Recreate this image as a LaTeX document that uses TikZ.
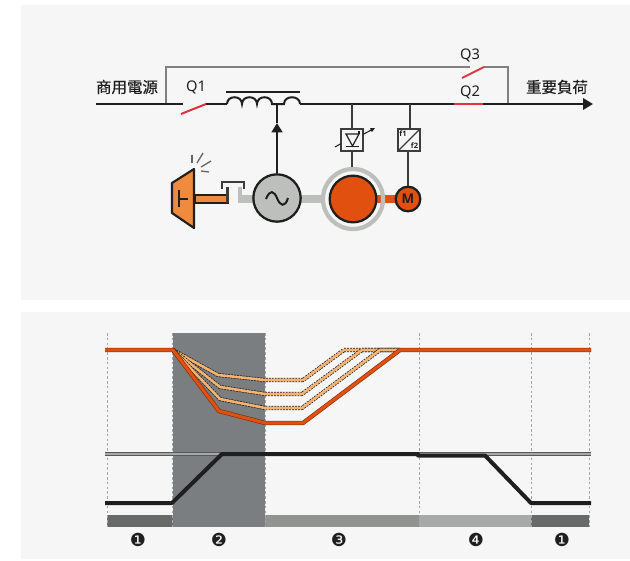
\documentclass[tikz,border=0pt]{standalone}
\usepackage{fontspec}
\setmainfont{Noto Sans}
\newfontfamily\cjkfont[FakeBold=0.35]{Noto Sans CJK TC}
\newfontfamily\dingfont{DejaVu Sans}
\newfontfamily\heavyfont{Open Sans Bold}
\usetikzlibrary{arrows.meta,calc}
\definecolor{panelc}{HTML}{F6F6F6}
\definecolor{ink}{HTML}{1F1F1F}
\definecolor{wire}{HTML}{3C3C3C}
\definecolor{bypass}{HTML}{808080}
\definecolor{switchred}{HTML}{E0323F}
\definecolor{hotorange}{HTML}{E2500F}
\definecolor{turbine}{HTML}{F08A3C}
\definecolor{shaftgrey}{HTML}{BDBFBD}
\definecolor{bandA}{HTML}{676A69}
\definecolor{bandB}{HTML}{7B7E80}
\definecolor{bandC}{HTML}{919391}
\definecolor{bandD}{HTML}{A7A9A8}
\definecolor{dashorange}{HTML}{F6B26E}
\tikzset{
  x=0.75pt,y=-0.75pt,
  panel/.style={fill=panelc,draw=none},
  buswire/.style={draw=ink,line width=1.8pt},
  bypasswire/.style={draw=bypass,line width=1.6pt},
  branchwire/.style={draw=wire,line width=1.9pt},
  redswitch/.style={draw=switchred,line width=1.5pt},
  label/.style={font=\fontsize{11}{13}\selectfont,text=ink,inner sep=0pt},
  cjklabel/.style={font=\cjkfont\fontsize{11.6}{13}\selectfont,text=ink,inner sep=0pt},
  convbox/.style={draw=wire,fill=panelc,line width=1.1pt,minimum size=16.5pt,inner sep=0pt},
  tinytext/.style={font=\heavyfont\fontsize{5.6}{6}\selectfont,text=ink,inner sep=0pt},
  guide/.style={draw=black!35,line width=0.7pt,dash pattern=on 2pt off 1.6pt},
  curvedash/.style={draw=black!85,line width=3.1pt,dash pattern=on 1.4pt off 0.8pt,line join=round},
  curvefill/.style={draw=dashorange,line width=1.9pt,line join=round},
  stepnum/.style={font=\dingfont\fontsize{13.5}{14}\selectfont,text=ink,inner sep=0pt},
}
\begin{document}
\begin{tikzpicture}
\useasboundingbox (0,0) rectangle (630,560);
\fill[white] (0,0) rectangle (630,560);
\fill[panel] (20.5,5) rectangle (630,300);
\fill[panel] (20.5,312) rectangle (630,559);

% ---------- bypass
\coordinate (bypassL) at (166,104);
\coordinate (bypassR) at (508,104);
\coordinate (q3a) at (484,67);
\coordinate (q3b) at (462,78);
\coordinate (q3stop) at (470,67);
\draw[bypasswire] (bypassL) |- (q3stop);
\draw[bypasswire] (q3a) -| (bypassR);
\draw[redswitch] (q3b) -- (q3a);

% ---------- main bus
\coordinate (busstart) at (96,104);
\coordinate (q1open) at (183,104);
\coordinate (q1a) at (181,114);
\coordinate (q1b) at (206,104);
\coordinate (coilA) at (227,104);
\coordinate (coilZ) at (300,104);
\coordinate (tap) at (277,104);
\coordinate (busend) at (593,104);
\coordinate (q2a) at (454,104);
\coordinate (q2b) at (483,104);
\draw[buswire] (busstart) -- (q1open);
\draw[redswitch] (q1a) -- (q1b);
\draw[buswire] (q1b) -- (coilA);
\draw[draw=ink,line width=1.5pt] (coilA)
  .. controls (227,95) and (242,95) .. (242,104)
  .. controls (242,95) and (257,95) .. (257,104)
  .. controls (257,95) and (272,95) .. (272,104)
  -- (284,104)
  .. controls (284,95) and (300,95) .. (coilZ);
\draw[draw=ink,line width=1.8pt] (226,92) -- (300,92);
\draw[buswire,-{Triangle[length=7.5pt,width=8.5pt]}] (coilZ) -- (busend);
\draw[draw=switchred,line width=2.1pt] (q2a) -- (q2b);

% ---------- labels
\node[cjklabel,anchor=center] (mains) at (127,87) {商用電源};
\node[cjklabel,anchor=center] (load) at (557,87) {重要負荷};
\node[label] (q1lbl) at (196,87) {Q1};
\node[label] (q2lbl) at (470,92) {Q2};
\node[label] (q3lbl) at (470,55) {Q3};

% ---------- shafts
\fill[shaftgrey] (238,195) rectangle (254,203);
\fill[shaftgrey] (238,187) rectangle (242,203);
\fill[shaftgrey] (300,195) rectangle (325,203);
\fill[hotorange] (376,195) rectangle (398,203);

% ---------- generator, motor
\node[draw=ink,fill=shaftgrey,line width=1.7pt,circle,minimum size=35.5pt,inner sep=0pt] (gen) at (277,198) {};
\draw[draw=ink,line width=1.5pt] (266,199) .. controls (270,189) and (274,191) .. (277,198) .. controls (280,206) and (285,208) .. (288,198);
\node[draw=shaftgrey,line width=3.2pt,circle,minimum size=45pt,inner sep=0pt] (ring) at (353,199) {};
\node[draw=ink,fill=hotorange,line width=1.7pt,circle,minimum size=35pt,inner sep=0pt] (rotor) at (353,199) {};
\node[draw=ink,fill=hotorange,line width=1.7pt,circle,minimum size=18.5pt,inner sep=0pt,font=\heavyfont\fontsize{10}{10}\selectfont,text=ink] (pump) at (408,199) {M};

% ---------- converters
\coordinate (tap1) at (352,104);
\coordinate (tap2) at (410,104);
\node[convbox] (rect) at (352,140) {};
\node[convbox] (freq) at (409,140) {};
\draw[branchwire] (tap1) -- (rect.north);
\draw[branchwire] (rect.south) -- (ring.north -| rect.south);
\draw[branchwire] (tap2) -- (freq.north -| tap2);
\draw[branchwire] (freq.south -| pump.north) -- (pump.north);
\draw[draw=wire,line width=1pt] (freq.south west) -- (freq.north east);
\node[tinytext] (f1) at (403,134) {f1};
\node[tinytext] (f2) at (414.5,146) {f2};
\draw[draw=ink,line width=0.9pt] (346,134) -- (359,134) -- (352.5,146) -- cycle;
\draw[draw=ink,line width=1pt] (346,146.5) -- (359,146.5);
\draw[draw=ink,line width=0.9pt] (359,134) -- (359,131);
\draw[draw=ink,line width=0.8pt] (335,147) -- (rect.west |- 0,144);
\draw[draw=ink,line width=0.8pt,-{Triangle[length=3.5pt,width=3pt]}] (rect.east |- 0,134) -- (375,128);

% ---------- turbine
\draw[draw=ink,fill=turbine,line width=1.3pt] (195,195) rectangle (228,203);
\draw[draw=wire,line width=1.7pt] (227.5,187) -- (227.5,203);
\draw[draw=wire,line width=1.7pt] (222,189) -- (222,182) -- (244,182) -- (244,189);
\draw[draw=ink,fill=turbine,line width=1.6pt,line join=round] (172,183) -- (194,169) -- (194,228) -- (172,213) -- cycle;
\draw[draw=ink,line width=1.5pt] (179,190) -- (179,207);
\draw[draw=ink,line width=1.5pt] (179,198.5) -- (188,198.5);
\draw[draw=black!60,line width=1pt] (192,155) -- (192,163);
\draw[draw=black!60,line width=1pt] (197,163) -- (203,153);
\draw[draw=black!60,line width=1pt] (201,167) -- (211,161);
\draw[draw=black!60,line width=1pt] (201,171) -- (209,172);
\draw[draw=ink,line width=1.8pt,-{Triangle[length=7pt,width=8pt]}] (gen.north) -- (277,123);
\draw[draw=ink,line width=1.8pt] (277,123) -- (tap);

% ---------- chart bands
\fill[bandB] (172.5,333) rectangle (265,527);
\fill[bandA] (107,515) rectangle (172.5,527);
\fill[bandC] (265,515) rectangle (419,527);
\fill[bandD] (419,515) rectangle (531,527);
\fill[bandA] (531,515) rectangle (589,527);
\foreach \gx in {107,172.5,265,419,531,589}
  \draw[guide] (\gx,333) -- (\gx,527);

% ---------- upper curves
\foreach \pts in {
  {(173,350) -- (218,375) -- (265,380) -- (303,380) -- (344,350) -- (400,350)},
  {(173,350) -- (220,387) -- (265,394) -- (302,394) -- (362,350) -- (400,350)},
  {(173,350) -- (220,399) -- (265,408) -- (302,408) -- (380,350) -- (400,350)}}{
  \draw[curvedash] \pts;
  \draw[curvefill] \pts;
}
\draw[draw=black!45!hotorange,line width=3.2pt,line join=round] (105,350) -- (173,350) -- (219,411) -- (265,423) -- (303,423) -- (400,350) -- (591,350);
\draw[draw=hotorange,line width=2.3pt,line join=round] (105,350) -- (173,350) -- (219,411) -- (265,423) -- (303,423) -- (400,350) -- (591,350);

% ---------- lower curves
\draw[draw=black!65,line width=3.4pt] (105,454) -- (591,454);
\draw[draw=bandD,line width=1.8pt] (105,454) -- (591,454);
\draw[draw=ink,line width=3pt,line join=round] (105,503) -- (172,503) -- (222,454) -- (418,454) -- (418,455.5) -- (485,455.5) -- (531,503) -- (591,503);

% ---------- step numbers
\node[stepnum] (s1) at (138,540) {❶};
\node[stepnum] (s2) at (219,540) {❷};
\node[stepnum] (s3) at (339,540) {❸};
\node[stepnum] (s4) at (476,540) {❹};
\node[stepnum] (s5) at (562,540) {❶};
\end{tikzpicture}
\end{document}
